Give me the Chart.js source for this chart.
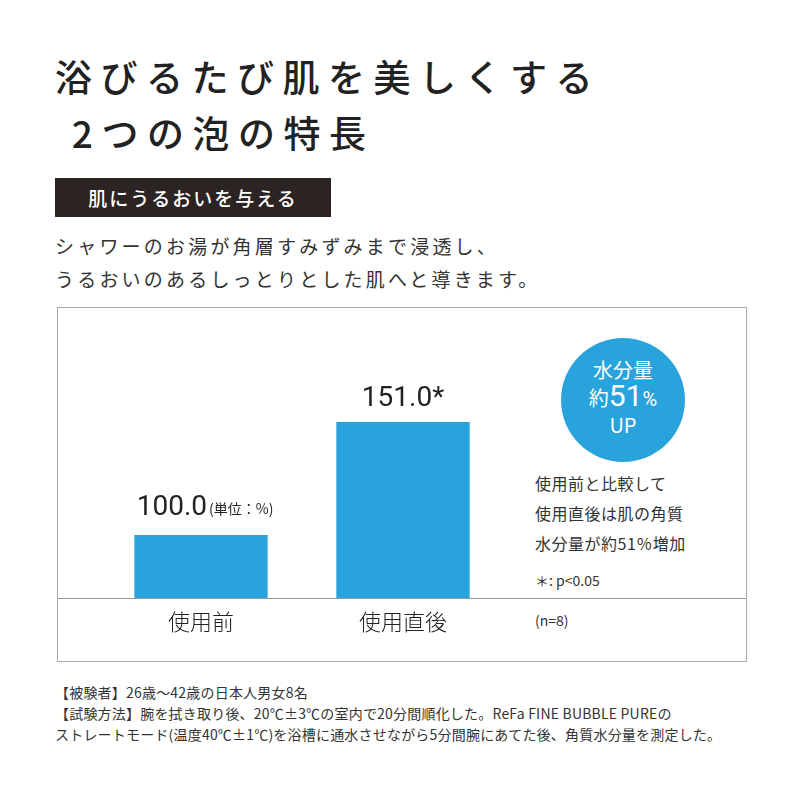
<!DOCTYPE html>
<html><head><meta charset="utf-8">
<script src="https://cdn.jsdelivr.net/npm/chart.js@4"></script>
<style>
body{margin:0;width:800px;height:800px;background:#fff;font-family:"Noto Sans CJK JP";color:#222;position:relative;overflow:hidden}
.a{position:absolute;white-space:nowrap}
</style></head><body>
<div class="a" style="left:55px;top:48px;font-size:37px;font-weight:500;letter-spacing:8.5px;line-height:56px">浴びるたび肌を美しくする<br>&nbsp;2つの泡の特長</div>
<div class="a" style="left:55px;top:178px;width:276px;height:39px;background:#2b2422;color:#fff;font-size:19px;line-height:39px;text-align:center;letter-spacing:2px;font-weight:500">肌にうるおいを与える</div>
<div class="a" style="left:55px;top:229px;font-size:19px;line-height:33px;letter-spacing:3.2px;color:#333">シャワーのお湯が角層すみずみまで浸透し、<br>うるおいのあるしっとりとした肌へと導きます。</div>
<div class="a" style="left:57px;top:307px;width:690px;height:355px;border:1px solid #aaa;box-sizing:border-box"></div>
<div class="a" style="left:58px;top:598px;width:688px;height:1px;background:#999"></div>
<div class="a" style="left:561px;top:338px;width:124px;height:124px;border-radius:50%;background:#29a3dc;color:#fff;text-align:center;font-size:20px;line-height:26px;padding-top:19px;box-sizing:border-box">水分量<br>約<span style="font-size:30px;font-family:Roboto">51</span><span style="font-family:Roboto">%</span><br>UP</div>
<div class="a" style="left:535px;top:468px;font-size:16px;line-height:30px;color:#333;letter-spacing:0.5px">使用前と比較して<br>使用直後は肌の角質<br>水分量が約51％増加</div>
<div class="a" style="left:535px;top:570px;font-size:14px;color:#333">＊: p&lt;0.05</div>
<div class="a" style="left:535px;top:610px;font-size:14px;color:#333">(n=8)</div>
<div class="a" style="left:55px;top:682px;font-size:14px;line-height:21px;color:#333;letter-spacing:0.2px">【被験者】26歳〜42歳の日本人男女8名<br>【試験方法】腕を拭き取り後、20℃±3℃の室内で20分間順化した。ReFa FINE BUBBLE PUREの<br>ストレートモード(温度40℃±1℃)を浴槽に通水させながら5分間腕にあてた後、角質水分量を測定した。</div>
<canvas id="c" class="a" style="left:0;top:307px;width:800px;height:355px"></canvas>
<script>
const categories = ["使用前", "使用直後"];
const values = [100.0, 151.0];
const valueLabels = ["100.0", "151.0*"];

const labelPlugin = {
  id: "labels",
  afterDatasetsDraw(chart) {
    const ctx = chart.ctx;
    const meta = chart.getDatasetMeta(0);
    ctx.save();
    ctx.fillStyle = "#222";
    ctx.textAlign = "center";
    meta.data.forEach((bar, i) => {
      ctx.font = "28px Roboto";
      ctx.textBaseline = "alphabetic";
      if (i === 0) {
        ctx.textAlign = "right";
        ctx.fillText(valueLabels[i], bar.x + 6, bar.y - 20);
        ctx.font = "14px 'Noto Sans CJK JP'";
        ctx.textAlign = "left";
        ctx.fillText("(単位：%)", bar.x + 8, bar.y - 21);
        ctx.textAlign = "center";
      } else {
        ctx.fillText(valueLabels[i], bar.x, bar.y - 16);
      }
      ctx.font = "300 22px 'Noto Sans CJK JP'";
      ctx.textBaseline = "middle";
      ctx.fillText(categories[i], bar.x, chart.chartArea.bottom + 24);
    });
    ctx.restore();
  }
};

new Chart(document.getElementById("c"), {
  type: "bar",
  data: {
    labels: categories,
    datasets: [{ data: values, backgroundColor: "#29a3dc", barPercentage: 0.66, categoryPercentage: 1 }]
  },
  options: {
    responsive: false,
    animation: false,
    layout: { padding: { left: 100, right: 296, top: 0, bottom: 64 } },
    plugins: { legend: { display: false }, tooltip: { enabled: false } },
    scales: {
      x: { display: false },
      y: { display: false, min: 71.6, max: 202.9 }
    }
  },
  plugins: [labelPlugin]
});
</script>
</body></html>
